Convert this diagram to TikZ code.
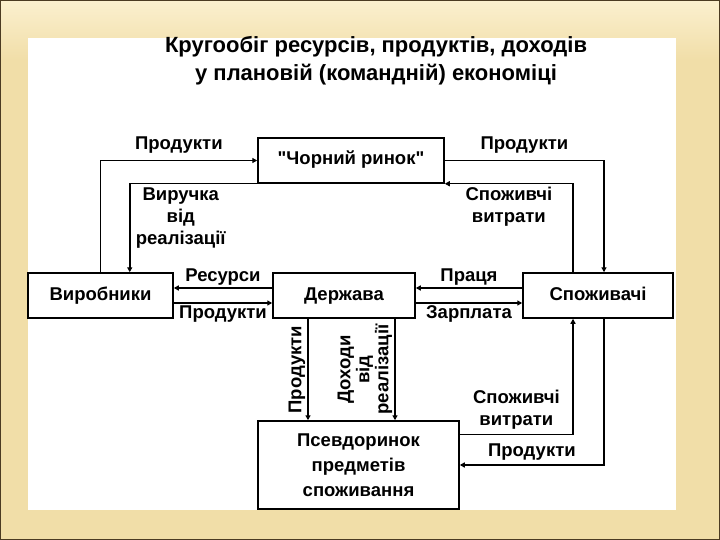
\documentclass[tikz,border=0pt]{standalone}
\usepackage{fontspec}
\setmainfont{Liberation Sans}[Ligatures=TeXOff]
\usetikzlibrary{arrows.meta, calc, positioning}
\definecolor{slidebg}{HTML}{F1DEA8}
\definecolor{slidetop}{HTML}{FBF0CF}
\definecolor{slideedge}{HTML}{4B3B22}

\begin{document}
\begin{tikzpicture}[
  x=1pt, y=-1pt,
  box/.style={draw, line width=1.5pt, fill=white, font=\fontsize{18.5}{25}\selectfont\bfseries, align=center, inner sep=0pt},
  onebox/.style={box, text height=13pt, text depth=4pt, minimum height=45pt},
  flow/.style={line width=1.5pt, -{Triangle[length=5pt, width=5pt]}},
  lbl/.style={font=\fontsize{18.5}{22}\selectfont\bfseries, align=center, inner sep=2pt}
]
\useasboundingbox (0,0) rectangle (720,540);
\fill[slidebg] (0,0) rectangle (720,540);
\fill[top color=slidetop, bottom color=slidebg] (0,0) rectangle (720,60);
\draw[slideedge, line width=1pt] (0.5,0.5) rectangle (719.5,539.5);
\fill[white] (28,38) rectangle (676,510);

\node[font=\fontsize{22}{28}\selectfont\bfseries, align=center] (title) at (376,61)
  {Кругообіг ресурсів, продуктів, доходів\\у плановій (командній) економіці};

\node[onebox, minimum width=186pt] (chorny) at (351,160.5) {"Чорний ринок"};
\node[onebox, minimum width=145pt] (vyrob) at (100.5,295.5) {Виробники};
\node[onebox, minimum width=142pt] (derzh) at (344,295.5) {Держава};
\node[onebox, minimum width=150pt] (spozh) at (598,295.5) {Споживачі};
\node[box, minimum width=201pt, minimum height=88pt] (psevdo) at (358.5,465)
  {Псевдоринок\\предметів\\споживання};

\draw[flow] (vyrob.north) |- (chorny.west)
  node[lbl, pos=.75, above=4pt] {Продукти};
\draw[flow] (chorny.south west) -| ([xshift=-44pt]vyrob.north east)
  node[lbl, pos=.3, below, yshift=-1pt] {Виручка\\від\\реалізації};
\draw[flow] (chorny.east) -| ([xshift=6pt]spozh.north)
  node[lbl, pos=.25, above=4pt] {Продукти};
\draw[flow] ([xshift=-25pt]spozh.north) |- (chorny.south east)
  node[lbl, pos=.75, below, yshift=-1pt] {Споживчі\\витрати};

\draw[flow] ([yshift=7.5pt]derzh.west) -- ([yshift=7.5pt]vyrob.east)
  node[lbl, midway, above] {Ресурси};
\draw[flow] ([yshift=-7.5pt]vyrob.east) -- ([yshift=-7.5pt]derzh.west)
  node[lbl, midway, below] {Продукти};
\draw[flow] ([yshift=7.5pt]spozh.west) -- ([yshift=7.5pt]derzh.east)
  node[lbl, midway, above] {Праця};
\draw[flow] ([yshift=-7.5pt]derzh.east) -- ([yshift=-7.5pt]spozh.west)
  node[lbl, midway, below] {Зарплата};

\draw[flow] ([xshift=-36pt]derzh.south) -- ([xshift=-36pt]derzh.south |- psevdo.north)
  node[lbl, midway, rotate=90, anchor=south] {Продукти};
\draw[flow] ([xshift=51pt]derzh.south) -- ([xshift=51pt]derzh.south |- psevdo.north)
  node[lbl, midway, rotate=90, anchor=south, font=\fontsize{18.5}{19}\selectfont\bfseries] {Доходи\\від\\реалізації};

\draw[flow] ([xshift=6pt]spozh.south) |- (psevdo.east)
  node[lbl, pos=.75, above=2pt] {Продукти};
\draw[flow] ([yshift=-14pt]psevdo.north east) -| ([xshift=-25pt]spozh.south)
  node[lbl, pos=.25, above=2pt] {Споживчі\\витрати};
\end{tikzpicture}
\end{document}
